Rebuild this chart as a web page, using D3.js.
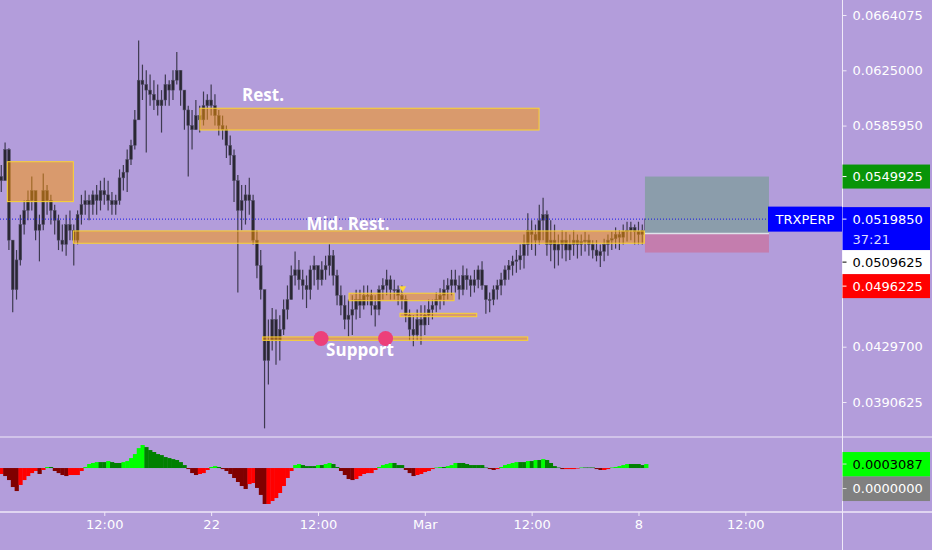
<!DOCTYPE html>
<html lang="en">
<title>TRXPERP</title>
<meta charset="UTF-8">
<style>
body {margin:0; background:#b39ddb;}
svg {display:block; font-family:"DejaVu Sans", sans-serif;}
</style>
<body>

<div id="chart"></div>

<script src="https://d3js.org/d3.v7.min.js"></script>
<script>
// ---- data (3h candles, prices in USDT) ----
var candleStart = "2021-02-15T03:00:00Z"
var candleStepHours = 3
var firstOpen = 0.0550

var highs = [
 0.0558,0.0574,0.0570,0.0505,0.0498,0.0523,0.0533,0.0540,0.0550,0.0537,
 0.0523,0.0552,0.0544,0.0537,0.0530,0.0523,0.0516,0.0523,0.0526,0.0516,
 0.0526,0.0537,0.0540,0.0537,0.0540,0.0544,0.0547,0.0549,0.0547,0.0539,
 0.0537,0.0555,0.0558,0.0569,0.0576,0.0597,0.0646,0.0629,0.0625,0.0622,
 0.0618,0.0615,0.0611,0.0622,0.0618,0.0625,0.0638,0.0625,0.0611,0.0600,
 0.0597,0.0604,0.0600,0.0610,0.0608,0.0615,0.0608,0.0597,0.0593,0.0586,
 0.0579,0.0569,0.0551,0.0544,0.0544,0.0549,0.0537,0.0512,0.0498,0.0470,
 0.0449,0.0457,0.0456,0.0452,0.0463,0.0473,0.0487,0.0497,0.0491,0.0484,
 0.0480,0.0487,0.0494,0.0487,0.0490,0.0494,0.0502,0.0498,0.0484,0.0473,
 0.0466,0.0463,0.0466,0.0470,0.0470,0.0473,0.0473,0.0470,0.0466,0.0473,
 0.0478,0.0484,0.0480,0.0477,0.0473,0.0473,0.0466,0.0456,0.0452,0.0456,
 0.0459,0.0459,0.0463,0.0463,0.0468,0.0471,0.0477,0.0478,0.0484,0.0484,
 0.0480,0.0487,0.0485,0.0480,0.0484,0.0487,0.0490,0.0473,0.0468,0.0473,
 0.0477,0.0482,0.0487,0.0491,0.0494,0.0498,0.0502,0.0509,0.0524,0.0519,
 0.0516,0.0530,0.0535,0.0526,0.0519,0.0516,0.0509,0.0512,0.0511,0.0509,
 0.0512,0.0509,0.0509,0.0511,0.0509,0.0505,0.0505,0.0502,0.0506,0.0509,
 0.0511,0.0514,0.0512,0.0516,0.0518,0.0518,0.0516,0.0518,0.0516,0.0523]

var lows = [
 0.0539,0.0551,0.0498,0.0454,0.0463,0.0487,0.0509,0.0519,0.0526,0.0505,
 0.0490,0.0512,0.0523,0.0516,0.0509,0.0498,0.0497,0.0494,0.0505,0.0487,
 0.0502,0.0516,0.0523,0.0519,0.0523,0.0523,0.0526,0.0530,0.0526,0.0523,
 0.0523,0.0530,0.0540,0.0539,0.0558,0.0569,0.0590,0.0604,0.0567,0.0600,
 0.0597,0.0593,0.0581,0.0600,0.0600,0.0604,0.0615,0.0600,0.0583,0.0550,
 0.0569,0.0583,0.0581,0.0586,0.0590,0.0593,0.0586,0.0579,0.0576,0.0563,
 0.0558,0.0532,0.0468,0.0512,0.0516,0.0523,0.0502,0.0478,0.0463,0.0372,
 0.0403,0.0427,0.0417,0.0420,0.0438,0.0449,0.0463,0.0473,0.0470,0.0463,
 0.0457,0.0463,0.0473,0.0470,0.0473,0.0477,0.0480,0.0473,0.0459,0.0452,
 0.0442,0.0437,0.0438,0.0449,0.0450,0.0456,0.0459,0.0452,0.0444,0.0452,
 0.0463,0.0466,0.0463,0.0463,0.0459,0.0456,0.0447,0.0434,0.0430,0.0434,
 0.0431,0.0438,0.0445,0.0449,0.0454,0.0456,0.0459,0.0463,0.0466,0.0468,
 0.0463,0.0466,0.0470,0.0465,0.0468,0.0471,0.0470,0.0453,0.0454,0.0459,
 0.0463,0.0466,0.0473,0.0477,0.0480,0.0482,0.0484,0.0485,0.0494,0.0498,
 0.0494,0.0502,0.0505,0.0494,0.0490,0.0485,0.0487,0.0492,0.0490,0.0491,
 0.0494,0.0492,0.0494,0.0497,0.0494,0.0492,0.0490,0.0486,0.0490,0.0494,
 0.0498,0.0499,0.0498,0.0502,0.0504,0.0505,0.0502,0.0502,0.0502,0.0509]

var closes = [
 0.0547,0.0569,0.0505,0.0470,0.0491,0.0516,0.0526,0.0533,0.0540,0.0512,
 0.0516,0.0540,0.0533,0.0526,0.0519,0.0505,0.0502,0.0516,0.0512,0.0505,
 0.0523,0.0530,0.0533,0.0530,0.0537,0.0533,0.0540,0.0537,0.0533,0.0530,
 0.0533,0.0549,0.0553,0.0562,0.0572,0.0590,0.0618,0.0615,0.0611,0.0608,
 0.0604,0.0600,0.0604,0.0615,0.0611,0.0618,0.0625,0.0611,0.0597,0.0586,
 0.0583,0.0593,0.0590,0.0600,0.0604,0.0600,0.0593,0.0586,0.0583,0.0572,
 0.0565,0.0547,0.0526,0.0533,0.0537,0.0533,0.0505,0.0487,0.0470,0.0420,
 0.0434,0.0449,0.0434,0.0442,0.0456,0.0463,0.0480,0.0484,0.0477,0.0473,
 0.0470,0.0484,0.0487,0.0477,0.0484,0.0487,0.0494,0.0480,0.0466,0.0459,
 0.0449,0.0452,0.0456,0.0463,0.0459,0.0466,0.0466,0.0459,0.0456,0.0470,
 0.0473,0.0477,0.0470,0.0470,0.0466,0.0463,0.0452,0.0442,0.0438,0.0449,
 0.0445,0.0452,0.0456,0.0459,0.0463,0.0466,0.0470,0.0473,0.0477,0.0473,
 0.0470,0.0480,0.0477,0.0473,0.0477,0.0484,0.0473,0.0463,0.0463,0.0470,
 0.0473,0.0477,0.0484,0.0487,0.0490,0.0491,0.0494,0.0502,0.0512,0.0509,
 0.0505,0.0519,0.0523,0.0502,0.0505,0.0498,0.0502,0.0505,0.0498,0.0502,
 0.0505,0.0502,0.0504,0.0505,0.0502,0.0498,0.0494,0.0497,0.0502,0.0505,
 0.0506,0.0509,0.0507,0.0511,0.0512,0.0514,0.0511,0.0509,0.0512,0.0520]

// squeeze momentum histogram, one value per candle
var momentum = [
 -0.00046,-0.00062,-0.00093,-0.00147,-0.00178,-0.00131,-0.00093,-0.00062,-0.00039,-0.00023,
 -0.00046,-0.00015,0.00008,0.00008,-0.00023,-0.00039,-0.00054,-0.00062,-0.00054,-0.00054,
 -0.00054,-0.00023,0.00008,0.00031,0.00039,0.00046,0.00046,0.00046,0.00054,0.00046,
 0.00039,0.00039,0.00046,0.00054,0.00077,0.00108,0.00154,0.00178,0.00162,0.00139,
 0.00124,0.00108,0.00100,0.00085,0.00077,0.00069,0.00062,0.00046,0.00023,-0.00008,
 -0.00039,-0.00054,-0.00046,-0.00039,-0.00015,0.00008,0.00015,0.00008,-0.00008,-0.00023,
 -0.00046,-0.00077,-0.00108,-0.00139,-0.00162,-0.00124,-0.00116,-0.00154,-0.00208,-0.00278,
 -0.00278,-0.00255,-0.00232,-0.00193,-0.00139,-0.00077,-0.00023,0.00023,0.00031,0.00023,
 0.00015,0.00015,0.00015,0.00023,0.00023,0.00031,0.00039,0.00031,0.00008,-0.00023,
 -0.00054,-0.00085,-0.00093,-0.00085,-0.00062,-0.00046,-0.00039,-0.00039,-0.00015,0.00008,
 0.00023,0.00031,0.00039,0.00039,0.00023,0.00023,-0.00015,-0.00039,-0.00062,-0.00054,
 -0.00046,-0.00031,-0.00023,-0.00008,0.00004,0.00008,0.00008,0.00015,0.00023,0.00039,
 0.00039,0.00039,0.00031,0.00023,0.00023,0.00023,0.00023,0.00004,-0.00008,-0.00015,
 -0.00008,0.00008,0.00023,0.00031,0.00039,0.00046,0.00046,0.00046,0.00054,0.00054,
 0.00062,0.00062,0.00069,0.00062,0.00039,0.00015,0.00004,-0.00008,-0.00008,-0.00008,
 -0.00008,-0.00004,0.00004,0.00004,0.00004,0.00004,-0.00008,-0.00015,-0.00015,-0.00008,
 0.00004,0.00008,0.00015,0.00023,0.00031,0.00031,0.00031,0.00031,0.00023,0.0003087]

// axis ticks
var priceTicks = [0.0664075, 0.0625000, 0.0585950, 0.0429700, 0.0390625]
var timeTicks = ["2021-02-18T12:00Z","2021-02-22T00:00Z","2021-02-25T12:00Z","2021-03-01T00:00Z","2021-03-04T12:00Z","2021-03-08T00:00Z","2021-03-11T12:00Z"]
var timeLabels = ["12:00","22","12:00","Mar","12:00","8","12:00"]

// drawn zones (start, end, top price, bottom price)
var zoneStart = ["2021-02-15T07:45Z","2021-02-21T15:10Z","2021-02-17T11:40Z","2021-02-26T12:25Z","2021-02-28T04:30Z","2021-02-23T16:30Z"]
var zoneEnd   = ["2021-02-17T11:40Z","2021-03-04T17:50Z","2021-03-08T04:35Z","2021-03-01T23:00Z","2021-03-02T16:50Z","2021-03-04T08:55Z"]
var zoneTop    = [0.05604, 0.05982, 0.05115, 0.04675, 0.04533, 0.04366]
var zoneBottom = [0.05322, 0.05828, 0.05028, 0.04622, 0.04509, 0.04342]

var noteTexts = ["Rest.", "Mid. Rest.", "Support"]
var noteTimes = ["2021-02-23T16:48Z","2021-02-26T11:36Z","2021-02-26T21:00Z"]
var notePrices = [0.06076, 0.05171, 0.04274]

var dotTimes = ["2021-02-25T14:25Z","2021-02-27T17:10Z"]
var dotPrice = 0.04355
var flagTime = "2021-02-28T06:35Z", flagPrice = 0.04710

// long position tool
var posStart = "2021-03-08T05:05Z", posEnd = "2021-03-12T06:35Z"
var targetPrice = 0.0549925, entryPrice = 0.0509625, stopPrice = 0.0496225
var lastPrice = 0.0519850, countdown = "37:21", symbol = "TRXPERP"
var indicatorLast = 0.0003087

// ---- layout ----
var W = 932, H = 550
var plotRight = 842.5, paneBottom = 437, indTop = 437, indBottom = 512

var svg = d3.select("#chart").append("svg")
  .attr("width", W)
  .attr("height", H)

svg.append("rect").attr("width", W).attr("height", H).attr("fill", "#b39ddb")

var x = d3.scaleUtc()
  .domain([new Date("2021-02-15T02:00:00Z"), new Date("2021-03-14T16:48:00Z")])
  .range([0, 843])

var y = d3.scaleLinear()
  .domain([0.0390625, 0.0664075])
  .range([402, 15])

var y2 = d3.scaleLinear()
  .domain([-0.0034, 0.0024])
  .range([indBottom, indTop])

var t0 = new Date(candleStart)
var candles = closes.map(function(c, i) {
  return {
    date: d3.utcHour.offset(t0, i * candleStepHours),
    open: i == 0 ? firstOpen : closes[i - 1],
    high: highs[i], low: lows[i], close: c,
    mom: momentum[i]
  }
})
var step = x(d3.utcHour.offset(t0, candleStepHours)) - x(t0)

svg.append("clipPath").attr("id", "mainclip")
  .append("rect").attr("width", plotRight).attr("height", paneBottom)

var main = svg.append("g").attr("clip-path", "url(#mainclip)")

// candles
var cg = main.append("g")
cg.selectAll("line")
  .data(candles)
  .enter().append("line")
    .attr("x1", function(d) { return x(d.date) })
    .attr("x2", function(d) { return x(d.date) })
    .attr("y1", function(d) { return y(d.high) })
    .attr("y2", function(d) { return y(d.low) })
    .attr("stroke", "#3e3a50")
    .attr("stroke-width", 1.2)
cg.selectAll("rect")
  .data(candles)
  .enter().append("rect")
    .attr("x", function(d) { return x(d.date) - 1.4 })
    .attr("width", 2.8)
    .attr("y", function(d) { return y(Math.max(d.open, d.close)) })
    .attr("height", function(d) { return Math.max(1, Math.abs(y(d.open) - y(d.close))) })
    .attr("fill", "#2a2733")
    .attr("stroke", "#55516a")
    .attr("stroke-width", 0.5)

// position tool
var px0 = x(new Date(posStart)), px1 = x(new Date(posEnd))
main.append("rect")
  .attr("x", px0).attr("width", px1 - px0)
  .attr("y", y(targetPrice)).attr("height", y(entryPrice) - y(targetPrice))
  .attr("fill", "#8b9dab")
main.append("rect")
  .attr("x", px0).attr("width", px1 - px0)
  .attr("y", y(entryPrice)).attr("height", y(stopPrice) - y(entryPrice))
  .attr("fill", "#c47dae")
main.append("line")
  .attr("x1", px0).attr("x2", px1)
  .attr("y1", y(entryPrice)).attr("y2", y(entryPrice))
  .attr("stroke", "#dfe3ea").attr("stroke-width", 1.5)

// zones
main.selectAll(".zone")
  .data(zoneStart)
  .enter().append("rect")
    .attr("class", "zone")
    .attr("x", function(d) { return x(new Date(d)) })
    .attr("width", function(d, i) { return x(new Date(zoneEnd[i])) - x(new Date(d)) })
    .attr("y", function(d, i) { return y(zoneTop[i]) })
    .attr("height", function(d, i) { return y(zoneBottom[i]) - y(zoneTop[i]) })
    .attr("fill", "rgba(255,152,0,0.5)")
    .attr("stroke", "#fbd430")
    .attr("stroke-width", 1)

// current price dotted line
main.append("line")
  .attr("x1", 0).attr("x2", 768)
  .attr("y1", y(lastPrice)).attr("y2", y(lastPrice))
  .attr("stroke", "#1414e6")
  .attr("stroke-width", 1)
  .attr("stroke-dasharray", "1,2")

// support dots
main.selectAll(".dot")
  .data(dotTimes)
  .enter().append("circle")
    .attr("class", "dot")
    .attr("cx", function(d) { return x(new Date(d)) })
    .attr("cy", y(dotPrice))
    .attr("r", 7.5)
    .attr("fill", "#ec407a")

// little flag
main.append("path")
  .attr("d", d3.symbol(d3.symbolTriangle, 22)())
  .attr("transform", "translate(" + x(new Date(flagTime)) + "," + y(flagPrice) + ") rotate(180)")
  .attr("fill", "#fdd835")

// notes
main.selectAll(".note")
  .data(noteTexts)
  .enter().append("text")
    .attr("class", "note")
    .attr("x", function(d, i) { return x(new Date(noteTimes[i])) })
    .attr("y", function(d, i) { return y(notePrices[i]) })
    .attr("text-anchor", "middle")
    .attr("dominant-baseline", "central")
    .style("font-family", "'Open Sans', sans-serif")
    .style("font-weight", "bold")
    .style("font-size", "17px")
    .attr("fill", "#ffffff")
    .text(function(d) { return d })

// symbol tag
main.append("rect")
  .attr("x", 768).attr("width", plotRight - 768)
  .attr("y", y(lastPrice) - 12.5).attr("height", 25)
  .attr("fill", "#0000ff")
main.append("text")
  .attr("x", 805).attr("y", y(lastPrice))
  .attr("text-anchor", "middle").attr("dominant-baseline", "central")
  .attr("fill", "#fff").style("font-size", "13px")
  .text(symbol)

// indicator histogram
svg.append("g").selectAll("rect")
  .data(candles)
  .enter().append("rect")
    .attr("x", function(d) { return x(d.date) - step / 2 })
    .attr("width", step + 0.4)
    .attr("y", function(d) { return Math.min(y2(0), y2(d.mom)) })
    .attr("height", function(d) { return Math.abs(y2(d.mom) - y2(0)) })
    .attr("fill", function(d, i) {
      var prev = i == 0 ? d.mom : candles[i - 1].mom
      if (d.mom >= 0) return d.mom > prev ? "#00ff00" : "#008000"
      return d.mom < prev ? "#800000" : "#ff0000"
    })

// separators
svg.append("line").attr("x1", 0).attr("x2", W).attr("y1", paneBottom).attr("y2", paneBottom)
  .attr("stroke", "#efe9f8").attr("stroke-width", 1.2)
svg.append("line").attr("x1", 0).attr("x2", W).attr("y1", indBottom).attr("y2", indBottom)
  .attr("stroke", "#efe9f8").attr("stroke-width", 1.6)
svg.append("line").attr("x1", plotRight).attr("x2", plotRight).attr("y1", 0).attr("y2", H)
  .attr("stroke", "#efe9f8").attr("stroke-width", 1)

// time axis
var xAxis = svg.append("g")
  .attr("transform", "translate(0," + indBottom + ")")
  .call(d3.axisBottom(x)
    .tickValues(timeTicks.map(function(d) { return new Date(d) }))
    .tickFormat(function(d, i) { return timeLabels[i] })
    .tickSize(4).tickPadding(4))
xAxis.select(".domain").remove()
xAxis.selectAll("line").attr("stroke", "#efe9f8")
xAxis.selectAll("text").attr("fill", "#fff").style("font-size", "13px").style("font-family", "'DejaVu Sans', sans-serif")

// price axis
var yAxis = svg.append("g")
  .attr("transform", "translate(" + plotRight + ",0)")
  .call(d3.axisRight(y)
    .tickValues(priceTicks)
    .tickFormat(d3.format(".7f"))
    .tickSize(4).tickPadding(6))
yAxis.select(".domain").remove()
yAxis.selectAll("line").attr("stroke", "#efe9f8")
yAxis.selectAll("text").attr("fill", "#fff").style("font-size", "13px").style("font-family", "'DejaVu Sans', sans-serif")

// price labels, stacked like the platform does
var labelValues = [targetPrice, lastPrice, entryPrice, stopPrice]
var labelBg = ["#089508", "#0000ff", "#ffffff", "#ff0000"]
var labelFg = ["#fff", "#fff", "#000", "#fff"]
var labelH = [24, 43, 24, 24]
var bottom = -Infinity
labelValues.forEach(function(v, i) {
  var top = Math.max(y(v) - 12, bottom)
  bottom = top + labelH[i]
  svg.append("rect").attr("x", plotRight).attr("width", 87.5)
    .attr("y", top).attr("height", labelH[i]).attr("fill", labelBg[i])
  svg.append("line").attr("x1", plotRight).attr("x2", plotRight + 4)
    .attr("y1", top + 12).attr("y2", top + 12).attr("stroke", labelFg[i])
  svg.append("text").attr("x", plotRight + 10).attr("y", top + 12)
    .attr("dominant-baseline", "central").attr("fill", labelFg[i])
    .style("font-size", "13px").text(d3.format(".7f")(v))
  if (i == 1) {
    svg.append("text").attr("x", plotRight + 10).attr("y", top + 32)
      .attr("dominant-baseline", "central").attr("fill", "#dcdcff")
      .style("font-size", "13px").text(countdown)
  }
})

// indicator labels
var indValues = [indicatorLast, 0]
var indBg = ["#00ff00", "#808080"]
var indFg = ["#000", "#fff"]
bottom = -Infinity
indValues.forEach(function(v, i) {
  var top = Math.max(y2(v) - 12, bottom)
  bottom = top + 24.5
  svg.append("rect").attr("x", plotRight).attr("width", 87.5)
    .attr("y", top).attr("height", 24.5).attr("fill", indBg[i])
  svg.append("line").attr("x1", plotRight).attr("x2", plotRight + 4)
    .attr("y1", top + 12).attr("y2", top + 12).attr("stroke", "#ddd")
  svg.append("text").attr("x", plotRight + 10).attr("y", top + 12)
    .attr("dominant-baseline", "central").attr("fill", indFg[i])
    .style("font-size", "13px").text(d3.format(".7f")(v))
})
</script>

</body>
</html>
